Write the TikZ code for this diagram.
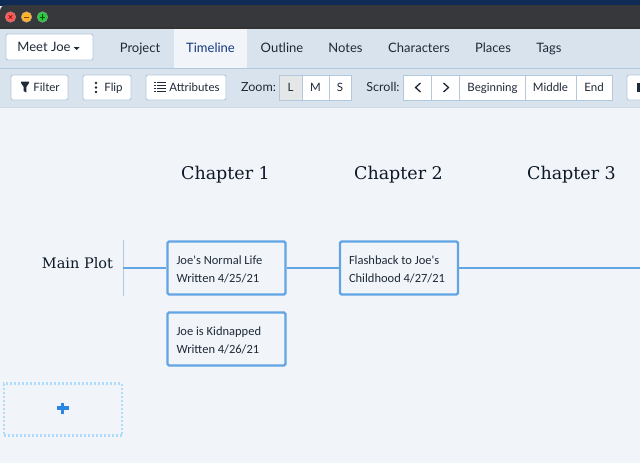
\documentclass[tikz,border=0pt]{standalone}
\usepackage{fontspec}
\setmainfont{Lato}
\newfontfamily\headfont{DejaVu Serif}
\newfontfamily\cardfont{Carlito}
\usetikzlibrary{positioning, shapes, calc}
\definecolor{winnavy}{HTML}{0F2A55}
\definecolor{windark}{HTML}{37383B}
\definecolor{barblue}{HTML}{D9E3EE}
\definecolor{pageblue}{HTML}{F1F5FA}
\definecolor{edgeblue}{HTML}{B4C8DC}
\definecolor{plotblue}{HTML}{62A5E2}
\definecolor{dotblue}{HTML}{B0DCFC}
\definecolor{plusblue}{HTML}{2A86E2}
\definecolor{inkdark}{HTML}{1F2A38}
\definecolor{headink}{HTML}{0E1826}
\definecolor{tabnavy}{HTML}{12397E}
\definecolor{pressgrey}{HTML}{E4E6E8}
\definecolor{lightred}{HTML}{FA5A58}
\definecolor{lightamber}{HTML}{FDB52A}
\definecolor{lightgreen}{HTML}{26C940}

\begin{document}
\begin{tikzpicture}[x=1pt, y=-1pt]
	\tikzstyle{barbtn}=[draw=edgeblue, line width=0.9, fill=white, rounded corners=2, minimum height=25, inner sep=0, text=inkdark, text height=10.5, text depth=2, font=\fontsize{11.5}{13}\selectfont]
	\tikzstyle{segbtn}=[barbtn, rounded corners=0]
	\tikzstyle{tabtxt}=[text=inkdark, inner sep=0, text height=9.5, text depth=3, font=\fontsize{13}{15}\selectfont]
	\tikzstyle{barlabel}=[text=inkdark, inner sep=0, font=\fontsize{12.5}{15}\selectfont]
	\tikzstyle{chapter}=[text=headink, inner sep=0, font=\headfont\fontsize{17.5}{20}\selectfont]
	\tikzstyle{card}=[draw=plotblue, line width=2.4, fill=pageblue, rounded corners=1.5, minimum width=118, minimum height=53, inner sep=0]
	\tikzstyle{cardtxt}=[text=inkdark, anchor=west, inner sep=0, font=\cardfont\fontsize{12.5}{18}\selectfont, align=left]
	\tikzstyle{light}=[circle, minimum size=10.5, inner sep=0, line width=0.5]
	\tikzstyle{plotline}=[plotblue, line width=2.6]

	\useasboundingbox (0,0) rectangle (640,463);

	%% window and bars
	\fill[pageblue] (0,0) rectangle (640,463);
	\fill[winnavy] (0,0) rectangle (640,6);
	\fill[windark, rounded corners=6] (0,5) rectangle (660,40);
	\fill[black!80] (0,27) rectangle (640,28.5);
	\fill[barblue] (0,28.5) rectangle (640,107);
	\draw[edgeblue, line width=0.8] (0,68) -- (640,68);
	\draw[edgeblue!70, line width=0.8] (0,107) -- (640,107);
	\fill[pageblue] (174,29) rectangle (247,68);

	\foreach \n/\x/\y/\z in {close/10.5/lightred/red!45!black, small/26.5/lightamber/orange!50!black, zoomup/42.5/lightgreen/green!30!black}
		\node[light, fill=\y, draw=\z!50] (\n) at (\x,17) {};
	\draw[red!45!black, line width=0.6] (8.7,15.2) -- (12.3,18.8) (8.7,18.8) -- (12.3,15.2);
	\draw[orange!50!black, line width=0.8] (23.8,17) -- (29.2,17);
	\draw[green!30!black, line width=0.8] (39.8,17) -- (45.2,17) (42.5,14.3) -- (42.5,19.7);

	%% tabs
	\node[barbtn, minimum width=87, minimum height=26] (meet) at (49.5,47) {};
	\node[tabtxt] (meetlbl) at (44,48.5) {Meet Joe};
	\fill[inkdark] (73.5,47) -- (79.5,47) -- (76.5,50) -- cycle;
	\node[tabtxt] (project) at (140,49.5) {Project};
	\node[tabtxt, text=tabnavy] (timeline) at (210.5,49.5) {Timeline};
	\node[tabtxt] (outline) at (282,49.5) {Outline};
	\node[tabtxt] (notes) at (345.5,49.5) {Notes};
	\node[tabtxt] (characters) at (419,49.5) {Characters};
	\node[tabtxt] (places) at (493,49.5) {Places};
	\node[tabtxt] (tags) at (549,49.5) {Tags};

	%% tool row
	\node[barbtn, minimum width=57] (filter) at (39.5,87.5) {\hspace{14pt}Filter};
	\fill[inkdark] (21,81.5) -- (29,81.5) -- (29,83) -- (26.3,87) -- (26.3,92.5) -- (23.7,91) -- (23.7,87) -- (21,83) -- cycle;
	\node[barbtn, minimum width=48] (flip) at (107,87.5) {\hspace{13pt}Flip};
	\foreach \y in {83,87.5,92}
		\fill[inkdark] (96,\y) circle (1.3);
	\node[barbtn, minimum width=80] (attrs) at (186,87.5) {\hspace{17pt}Attributes};
	\foreach \y in {82.5,85.5,88.5,91.5}
		\draw[inkdark, line width=1.9] (154,\y) -- (156,\y) (157,\y) -- (165.5,\y);

	\node[barlabel] (zoomlbl) at (258.5,87) {Zoom:};
	\node[segbtn, fill=pressgrey, minimum width=23] (zl) at (290.5,87.5) {L};
	\node[segbtn, minimum width=27] (zm) at (315.5,87.5) {M};
	\node[segbtn, minimum width=22] (zs) at (340,87.5) {S};

	\node[barlabel] (scrolllbl) at (383,87) {Scroll:};
	\node[segbtn, minimum width=28] (back) at (417.5,87.5) {};
	\node[segbtn, minimum width=28] (fwd) at (445.5,87.5) {};
	\draw[inkdark, line width=1.3] (420.5,83) -- (415.5,87.5) -- (420.5,92);
	\draw[inkdark, line width=1.3] (443.5,83) -- (448.5,87.5) -- (443.5,92);
	\node[segbtn, minimum width=66] (begin) at (492.5,87.5) {Beginning};
	\node[segbtn, minimum width=51] (middle) at (550.5,87.5) {Middle};
	\node[segbtn, minimum width=36] (end) at (594,87.5) {End};
	\node[barbtn, minimum width=40] (save) at (647,87.5) {};
	\fill[inkdark] (636.5,83) rectangle (640,92);

	%% timeline
	\node[chapter] (ch1) at (225.5,175) {Chapter 1};
	\node[chapter] (ch2) at (398.5,175) {Chapter 2};
	\node[chapter] (ch3) at (571.5,175) {Chapter 3};
	\node[chapter, font=\headfont\fontsize{14.5}{18}\selectfont] (plot) at (77.5,263) {Main Plot};

	\draw[edgeblue, line width=1] (123,240) -- (123,296);
	\coordinate (plotstart) at (123,268);
	\coordinate (plotend) at (640,268);
	\node[card] (c1) at (226.5,268) {};
	\node[card] (c2) at (399,268) {};
	\node[card] (c3) at (226.5,339) {};
	\draw[plotline] (plotstart) -- (c1) (c1) -- (c2) (c2) -- (plotend);

	\node[cardtxt] (t1) at ([xshift=10, yshift=-1.6]c1.west) {Joe's Normal Life\\Written 4/25/21};
	\node[cardtxt] (t2) at ([xshift=10, yshift=-1.6]c2.west) {Flashback to Joe's\\Childhood 4/27/21};
	\node[cardtxt] (t3) at ([xshift=10, yshift=-1.6]c3.west) {Joe is Kidnapped\\Written 4/26/21};

	\node[draw=dotblue, line width=2.2, dash pattern=on 2 off 2, minimum width=118, minimum height=52, inner sep=0] (add) at (63,409.5) {};
	\draw[plusblue, line width=3.4] (57,408) -- (68.5,408) (62.7,402.5) -- (62.7,414);
\end{tikzpicture}
\end{document}
